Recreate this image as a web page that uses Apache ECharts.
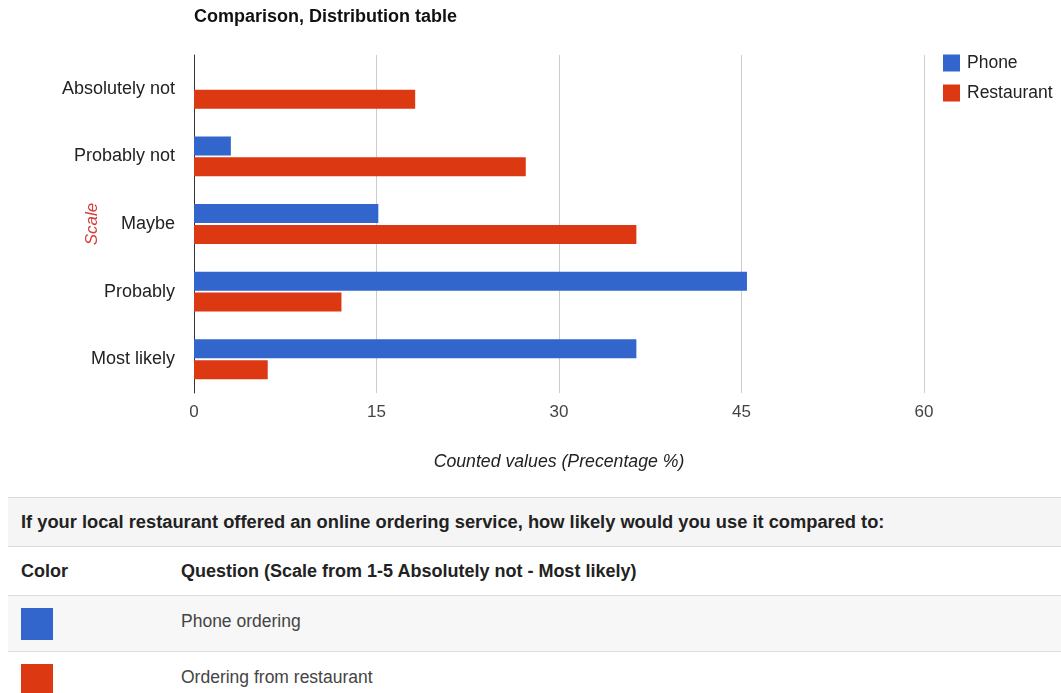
<!DOCTYPE html>
<html>
<head>
<meta charset="utf-8">
<script src="https://cdn.jsdelivr.net/npm/echarts@6/dist/echarts.min.js"></script>
<style>
  html, body { margin: 0; padding: 0; background: #fff; }
  body { width: 1061px; height: 693px; position: relative; overflow: hidden; font-family: "Liberation Sans", Arial, sans-serif; }
  #chart { position: absolute; left: 0; top: 0; width: 1061px; height: 490px; }
  #info { position: absolute; left: 8px; top: 497px; width: 1053px; border-collapse: collapse; }
  #info td { border-top: 1px solid #dcdcdc; padding: 0 0 0 13px; vertical-align: middle; white-space: nowrap; }
  #info tr.q td { height: 48px; background: #f5f5f5; font-weight: bold; color: #222; font-size: 18.3px; }
  #info tr.h td { height: 48px; background: #fff; font-weight: bold; color: #222; font-size: 18px; }
  #info tr.s td { height: 55px; color: #444; font-size: 17.5px; }
  #info tr.s td.t { height: 51px; padding-bottom: 4px; }
  #info tr.s:nth-child(odd) td { background: #f7f7f7; }
  #info td.c { width: 147px; }
  .sw { width: 32px; height: 32px; }
</style>
</head>
<body>
<div id="chart"></div>
<table id="info"><tbody id="infoBody"></tbody></table>
<script>
// Answer scale, top to bottom
const categories = ['Absolutely not', 'Probably not', 'Maybe', 'Probably', 'Most likely'];
// Share of answers per scale step (%)
const phoneValues = [0, 3.03, 15.15, 45.45, 36.36];
const restaurantValues = [18.18, 27.27, 36.36, 12.12, 6.06];
const seriesNames = ['Phone', 'Restaurant'];
const seriesColors = ['#3366cc', '#dc3912'];
const xTicks = [0, 15, 30, 45, 60];

// Description table under the chart
const tableQuestion = 'If your local restaurant offered an online ordering service, how likely would you use it compared to:';
const tableHeaders = ['Color', 'Question (Scale from 1-5 Absolutely not - Most likely)'];
const tableRows = ['Phone ordering', 'Ordering from restaurant'];

const chart = echarts.init(document.getElementById('chart'), null, { renderer: 'canvas' });
const font = '"Liberation Sans", Arial, sans-serif';

chart.setOption({
  animation: false,
  color: seriesColors,
  textStyle: { fontFamily: font },
  title: {
    text: 'Comparison, Distribution table',
    left: 194, top: 8, padding: 0,
    textStyle: { fontSize: 18, fontWeight: 'bold', color: '#111', fontFamily: font }
  },
  legend: {
    orient: 'vertical',
    left: 943, top: 54, padding: 0,
    itemWidth: 17, itemHeight: 17, itemGap: 12,
    icon: 'rect',
    textStyle: { fontSize: 17.5, color: '#222', padding: [0, 0, 0, 2] },
    data: seriesNames
  },
  grid: { left: 194, top: 55, width: 730, height: 338, containLabel: false },
  xAxis: {
    type: 'value',
    min: xTicks[0], max: xTicks[xTicks.length - 1], interval: xTicks[1] - xTicks[0],
    name: 'Counted values (Precentage %)',
    nameLocation: 'middle', nameGap: 60,
    nameTextStyle: { fontSize: 17.7, fontStyle: 'italic', color: '#222' },
    axisLine: { show: false },
    axisTick: { show: false },
    axisLabel: { fontSize: 17, color: '#444', margin: 11 },
    splitLine: { show: true, lineStyle: { color: '#cccccc', width: 1 } }
  },
  yAxis: {
    type: 'category',
    inverse: true,
    data: categories,
    name: 'Scale',
    nameLocation: 'middle', nameGap: 102, nameRotate: 90,
    nameMoveOverlap: false,
    nameTextStyle: { fontSize: 17, fontStyle: 'italic', color: '#d63a3a', verticalAlign: 'middle' },
    axisLine: { show: true, lineStyle: { color: '#333', width: 1 } },
    axisTick: { show: false },
    axisLabel: { fontSize: 18, color: '#222', margin: 19 },
    splitLine: { show: false }
  },
  series: [
    { name: seriesNames[0], type: 'bar', data: phoneValues, barWidth: 19, barGap: '10%' },
    { name: seriesNames[1], type: 'bar', data: restaurantValues, barWidth: 19, barGap: '10%' }
  ]
});

// Build the description table
const body = document.getElementById('infoBody');
function addRow(cls, first, second) {
  const tr = document.createElement('tr');
  tr.className = cls;
  const a = document.createElement('td');
  a.className = 'c';
  if (first instanceof Node) a.appendChild(first); else a.textContent = first;
  tr.appendChild(a);
  if (second !== undefined) {
    const b = document.createElement('td');
    b.className = 't';
    b.textContent = second;
    tr.appendChild(b);
  } else {
    a.colSpan = 2;
    a.className = '';
  }
  body.appendChild(tr);
}
addRow('q', tableQuestion);
addRow('h', tableHeaders[0], tableHeaders[1]);
tableRows.forEach((t, i) => {
  const sw = document.createElement('div');
  sw.className = 'sw';
  sw.style.background = seriesColors[i];
  addRow('s', sw, t);
});
</script>
</body>
</html>
